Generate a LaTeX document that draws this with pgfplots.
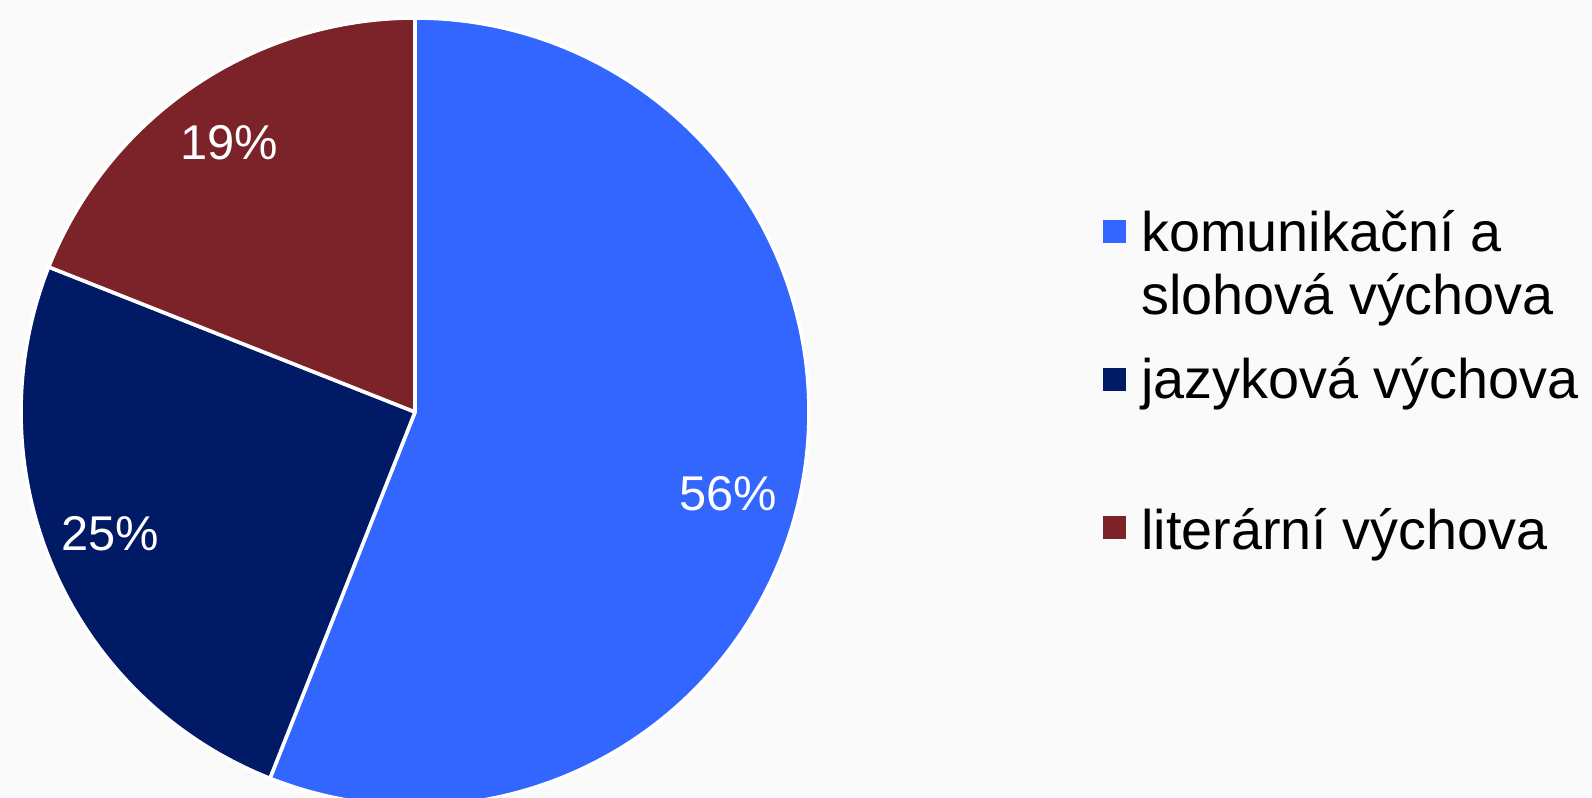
\documentclass[border=0pt]{standalone}
\usepackage{pgfplots}
\usepackage{pgfplotstable}
\pgfplotsset{compat=1.18}
\usepackage{fontspec}
\setmainfont{Liberation Sans}

\definecolor{bg}{HTML}{FAFAFA}
\definecolor{pieblue}{HTML}{3366FF}
\definecolor{pienavy}{HTML}{001A66}
\definecolor{piered}{HTML}{7B2328}

% shares in percent, clockwise from 12 o'clock
\pgfplotstableread{
value
56
25
19
}\piedata

\pgfplotstablegetelem{0}{value}\of\piedata \edef\vA{\pgfplotsretval}
\pgfplotstablegetelem{1}{value}\of\piedata \edef\vB{\pgfplotsretval}
\pgfplotstablegetelem{2}{value}\of\piedata \edef\vC{\pgfplotsretval}
\pgfmathsetmacro\aA{90}
\pgfmathsetmacro\aB{\aA-3.6*\vA}
\pgfmathsetmacro\aC{\aB-3.6*\vB}
\pgfmathsetmacro\aD{\aC-3.6*\vC}

\def\rad{197bp}
\newcommand\legfont{\fontsize{28}{32}\selectfont}
\newcommand\labfont{\fontsize{24.5}{28}\selectfont}

\begin{document}
\begin{tikzpicture}
\begin{axis}[
    at={(0,0)}, anchor=south west,
    width=796bp, height=399bp, scale only axis,
    xmin=0, xmax=1592, ymin=0, ymax=798,
    hide axis, clip=false,
  ]
  \fill[bg] (axis cs:0,0) rectangle (axis cs:1592,798);
  % slices
  \filldraw[fill=pieblue, draw=white, line width=1.8bp, line join=round]
    (axis cs:415,386) -- ++(\aA:\rad) arc[start angle=\aA, end angle=\aB, radius=\rad] -- cycle;
  \filldraw[fill=pienavy, draw=white, line width=1.8bp, line join=round]
    (axis cs:415,386) -- ++(\aB:\rad) arc[start angle=\aB, end angle=\aC, radius=\rad] -- cycle;
  \filldraw[fill=piered, draw=white, line width=1.8bp, line join=round]
    (axis cs:415,386) -- ++(\aC:\rad) arc[start angle=\aC, end angle=\aD, radius=\rad] -- cycle;
  % value labels
  \node[white, font=\labfont] at (axis cs:728,304) {\vA\%};
  \node[white, font=\labfont] at (axis cs:110,264) {\vB\%};
  \node[white, font=\labfont] at (axis cs:229,655) {\vC\%};
  % legend
  \fill[pieblue] (axis cs:1103,554.5) rectangle (axis cs:1126,577.5);
  \fill[pienavy] (axis cs:1103,406.5) rectangle (axis cs:1126,429.5);
  \fill[piered]  (axis cs:1103,258.5) rectangle (axis cs:1126,281.5);
  \node[anchor=base west, inner sep=0pt, font=\legfont] at (axis cs:1141,546) {komunikační a};
  \node[anchor=base west, inner sep=0pt, font=\legfont] at (axis cs:1141,483) {slohová výchova};
  \node[anchor=base west, inner sep=0pt, font=\legfont] at (axis cs:1141,399) {jazyková výchova};
  \node[anchor=base west, inner sep=0pt, font=\legfont] at (axis cs:1141,248) {literární výchova};
\end{axis}
\pgfresetboundingbox
\path (0,0) rectangle (796bp,399bp);
\end{tikzpicture}
\end{document}
